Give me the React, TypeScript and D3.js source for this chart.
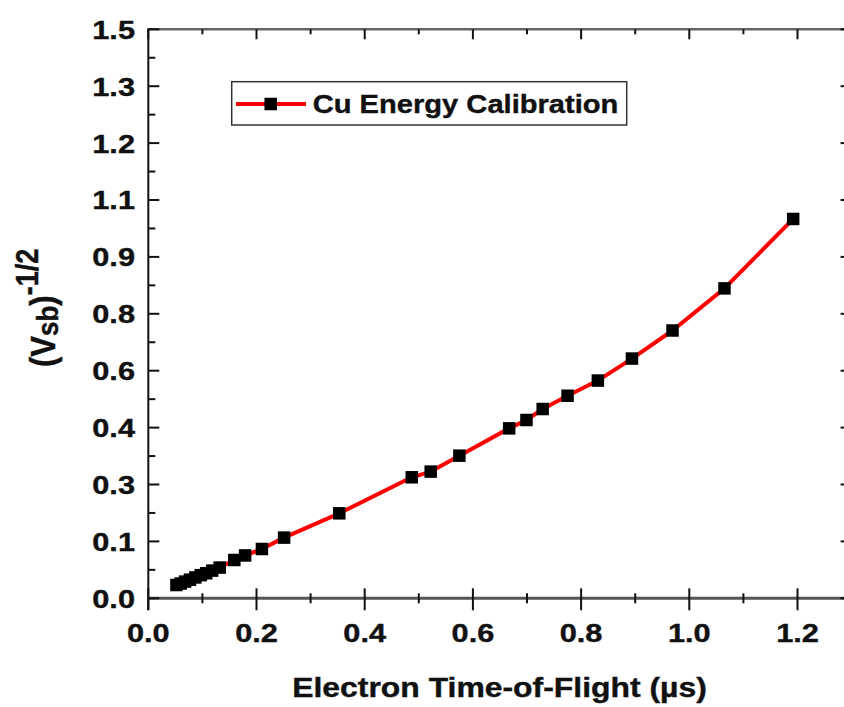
import React from "react";
import * as d3 from "d3";

const xValues = [0.052, 0.06, 0.068, 0.077, 0.087, 0.097, 0.107, 0.118, 0.132, 0.159, 0.179, 0.21, 0.251, 0.353, 0.487, 0.522, 0.575, 0.667, 0.699, 0.729, 0.775, 0.831, 0.894, 0.969, 1.065, 1.192];
const yValues = [0.035, 0.039, 0.044, 0.049, 0.055, 0.061, 0.066, 0.073, 0.081, 0.101, 0.113, 0.13, 0.16, 0.224, 0.319, 0.334, 0.376, 0.448, 0.47, 0.499, 0.534, 0.574, 0.632, 0.706, 0.817, 1.0];

const xMajorTicks = [0, 0.2, 0.4, 0.6, 0.8, 1.0, 1.2];
const xTickLabels = ["0.0", "0.2", "0.4", "0.6", "0.8", "1.0", "1.2"];
const xMinorTicks = [0.1, 0.3, 0.5, 0.7, 0.9, 1.1];
const yMajorTicks = [0, 0.15, 0.3, 0.45, 0.6, 0.75, 0.9, 1.05, 1.2, 1.35, 1.5];
const yTickLabels = ["0.0", "0.1", "0.3", "0.4", "0.6", "0.8", "0.9", "1.1", "1.2", "1.3", "1.5"];
const yMinorTicks = [0.075, 0.225, 0.375, 0.525, 0.675, 0.825, 0.975, 1.125, 1.275, 1.425];

const seriesName = "Cu Energy Calibration";
const xTitle = "Electron Time-of-Flight";
const xUnit = "(µs)";

const W = 844;
const H = 707;
const SX = 1.16;
const FONT = "'Liberation Sans', Arial, Helvetica, sans-serif";

export default function App() {
  const x = d3.scaleLinear().domain([0, 1.3]).range([148.3, 851.6]);
  const y = d3.scaleLinear().domain([0, 1.5]).range([598.3, 29.3]);
  const data = xValues.map((v, i) => [v, yValues[i]] as [number, number]);
  const line = d3.line<[number, number]>().x((d) => x(d[0])).y((d) => y(d[1]));
  const x0 = x(0);
  const x1 = x(1.3);
  const y0 = y(0);
  const y1 = y(1.5);
  const M = 12.5;

  return (
    <div style={{ position: "fixed", left: 0, top: 0, width: W, height: H, background: "#fff" }}>
      <svg width={W} height={H} style={{ display: "block" }} fontFamily={FONT}>
        <rect width={W} height={H} fill="#fff" />
        {/* frame */}
        <line x1={x0} x2={x1} y1={y1} y2={y1} stroke="#666" strokeWidth={2.5} />
        <line x1={x0} x2={x1} y1={y0} y2={y0} stroke="#555" strokeWidth={3} />
        <line x1={x1} x2={x1} y1={y1} y2={y0} stroke="#333" strokeWidth={2} />
        <line x1={x0} x2={x0} y1={y1 - 1} y2={610} stroke="#111" strokeWidth={2} />

        {/* x ticks bottom & top */}
        {xMajorTicks.map((t) => (
          <g key={"xM" + t}>
            <line x1={x(t)} x2={x(t)} y1={y0 - 10} y2={y0 + 12} stroke="#111" strokeWidth={2} />
            <line x1={x(t)} x2={x(t)} y1={y1} y2={y1 + 10} stroke="#111" strokeWidth={2} />
          </g>
        ))}
        {xMinorTicks.map((t) => (
          <g key={"xm" + t}>
            <line x1={x(t)} x2={x(t)} y1={y0 - 5} y2={y0 + 5} stroke="#111" strokeWidth={2} />
            <line x1={x(t)} x2={x(t)} y1={y1} y2={y1 + 5} stroke="#111" strokeWidth={2} />
          </g>
        ))}
        {/* y ticks left & right */}
        {yMajorTicks.map((t) => (
          <g key={"yM" + t}>
            <line x1={x0} x2={x0 + 11} y1={y(t)} y2={y(t)} stroke="#111" strokeWidth={2} />
            <line x1={x1} x2={x1 - 11} y1={y(t)} y2={y(t)} stroke="#111" strokeWidth={2} />
          </g>
        ))}
        {yMinorTicks.map((t) => (
          <g key={"ym" + t}>
            <line x1={x0} x2={x0 + 7} y1={y(t)} y2={y(t)} stroke="#111" strokeWidth={2} />
            <line x1={x1} x2={x1 - 7} y1={y(t)} y2={y(t)} stroke="#111" strokeWidth={2} />
          </g>
        ))}

        {/* tick labels */}
        {xMajorTicks.map((t, i) => (
          <text key={"xl" + t} transform={`translate(${x(t)},642) scale(${SX},1)`} textAnchor="middle" fontSize={26.5} fontWeight="bold" fill="#111" stroke="#111" strokeWidth={0.4}>
            {xTickLabels[i]}
          </text>
        ))}
        {yMajorTicks.map((t, i) => (
          <text key={"yl" + t} transform={`translate(135,${y(t) + 9.4}) scale(${SX},1)`} textAnchor="end" fontSize={26.5} fontWeight="bold" fill="#111" stroke="#111" strokeWidth={0.4}>
            {yTickLabels[i]}
          </text>
        ))}

        {/* axis titles */}
        <text transform={`translate(499.5,697) scale(${SX},1)`} textAnchor="middle" fontSize={27.5} fontWeight="bold" fill="#111" stroke="#111" strokeWidth={0.4}>
          {xTitle} <tspan>{xUnit}</tspan>
        </text>
        <text transform={`translate(55,367) scale(${SX},1) rotate(-90)`} fontSize={31} fontWeight="bold" fill="#111" stroke="#111" strokeWidth={0.4}>
          <tspan>(V</tspan>
          <tspan fontSize={26} dy={3}>sb</tspan>
          <tspan dy={-3}>)</tspan>
          <tspan fontSize={27} dy={-15}>-1/2</tspan>
        </text>

        {/* series */}
        <path d={line(data) || ""} fill="none" stroke="#ff0000" strokeWidth={4} strokeLinejoin="round" />
        {data.map((d, i) => (
          <rect key={"p" + i} x={x(d[0]) - M / 2} y={y(d[1]) - M / 2} width={M} height={M} fill="#000" />
        ))}

        {/* legend */}
        <rect x={231.7} y={81.7} width={395} height={43.3} fill="#fff" stroke="#333" strokeWidth={1.5} />
        <line x1={236} x2={306} y1={104} y2={104} stroke="#ff0000" strokeWidth={4} />
        <rect x={270.7 - M / 2} y={104 - M / 2} width={M} height={M} fill="#000" />
        <text transform={`translate(312.7,113.3) scale(1.12,1)`} fontSize={26} fontWeight="bold" fill="#111" stroke="#111" strokeWidth={0.4}>
          {seriesName}
        </text>
      </svg>
    </div>
  );
}
